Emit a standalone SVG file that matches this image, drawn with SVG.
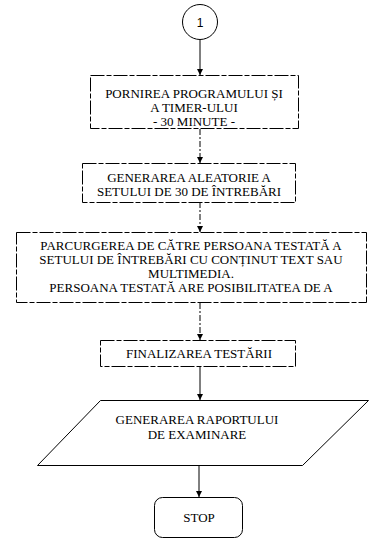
<svg xmlns="http://www.w3.org/2000/svg" width="372" height="540" viewBox="0 0 372 540">
<style>
.bg{fill:#fff}
.node{fill:#fff;stroke:#000;stroke-width:1}
.dash{stroke-dasharray:14 2 5 2}
.t{font-family:'Liberation Serif','Times New Roman','DejaVu Serif',serif;font-size:13px;fill:#000;text-anchor:middle}
.c{fill:none;stroke:#000;stroke-width:1}
.cd{stroke-dasharray:6 2 2 2}
</style>
<defs>
<marker id="ah" viewBox="0 0 10 10" refX="10" refY="5" markerWidth="6" markerHeight="6" orient="auto" markerUnits="userSpaceOnUse">
<path d="M0,0 L10,5 L0,10 z" fill="#000"/>
</marker>
</defs>
<rect class="bg" x="0" y="0" width="372" height="540"/>
<g id="connectors">
<line class="c" x1="200" y1="40" x2="200" y2="75" marker-end="url(#ah)"/>
<line class="c cd" x1="200" y1="129" x2="200" y2="163" marker-end="url(#ah)"/>
<line class="c cd" x1="200" y1="202" x2="200" y2="232" marker-end="url(#ah)"/>
<line class="c cd" x1="200" y1="303" x2="200" y2="340" marker-end="url(#ah)"/>
<line class="c" x1="200" y1="366" x2="200" y2="400" marker-end="url(#ah)"/>
<line class="c" x1="199" y1="465" x2="199" y2="497" marker-end="url(#ah)"/>
</g>
<g id="n1">
<circle class="node" cx="200" cy="22" r="17.5"/>
<text class="t" x="200" y="26.5" style="font-family:'Liberation Sans',Arial,sans-serif;font-size:12px">1</text>
</g>
<g id="n2">
<rect class="node dash" x="90.5" y="75.5" width="208" height="53"/>
<text class="t" x="194" y="97.5">PORNIREA PROGRAMULUI ȘI</text>
<text class="t" x="194" y="111.5">A TIMER-ULUI</text>
<text class="t" x="194" y="125.5">- 30 MINUTE -</text>
</g>
<g id="n3">
<rect class="node dash" x="82.5" y="163.5" width="213" height="39"/>
<text class="t" x="189" y="182">GENERAREA ALEATORIE A</text>
<text class="t" x="189" y="196">SETULUI DE 30 DE ÎNTREBĂRI</text>
</g>
<g id="n4">
<rect class="node dash" x="16.5" y="232.5" width="350" height="70"/>
<text class="t" x="191" y="250">PARCURGEREA DE CĂTRE PERSOANA TESTATĂ A</text>
<text class="t" x="191" y="264">SETULUI DE ÎNTREBĂRI CU CONȚINUT TEXT SAU</text>
<text class="t" x="191" y="278">MULTIMEDIA.</text>
<text class="t" x="191" y="292">PERSOANA TESTATĂ ARE POSIBILITATEA DE A</text>
</g>
<g id="n5">
<rect class="node dash" x="100.5" y="340.5" width="195" height="26"/>
<text class="t" x="199" y="358">FINALIZAREA TESTĂRII</text>
</g>
<g id="n6">
<polygon class="node" points="100.5,400.5 368.5,400.5 302.5,465.5 37.5,465.5"/>
<text class="t" x="197" y="424">GENERAREA RAPORTULUI</text>
<text class="t" x="197" y="439">DE EXAMINARE</text>
</g>
<g id="n7">
<rect class="node" x="154.5" y="497.5" width="88" height="40" rx="8"/>
<text class="t" x="199" y="522">STOP</text>
</g>
</svg>
